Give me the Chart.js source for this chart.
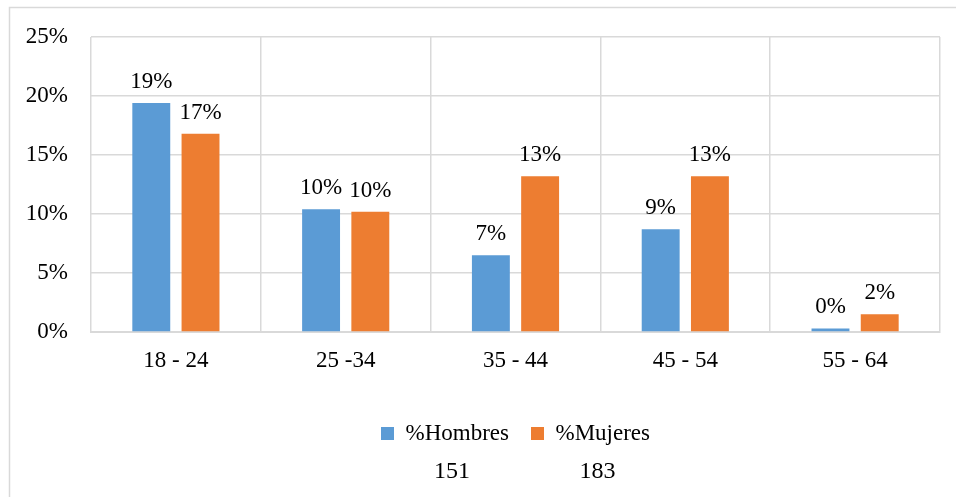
<!DOCTYPE html>
<html>
<head>
<meta charset="utf-8">
<script src="https://cdn.jsdelivr.net/npm/chart.js@4"></script>
<style>
  html, body { margin: 0; padding: 0; background: #ffffff; }
  #wrap { width: 956px; height: 497px; }
</style>
</head>
<body>
<div id="wrap"><canvas id="c" width="956" height="497"></canvas></div>
<script>
// Age groups and share of respondents (%) by sex
const categories = ['18 - 24', '25 -34', '35 - 44', '45 - 54', '55 - 64'];
const seriesNames = ['%Hombres', '%Mujeres'];
const hombres = [19.4, 10.4, 6.5, 8.7, 0.3];
const mujeres = [16.8, 10.2, 13.2, 13.2, 1.5];
const totals = [151, 183];
const yTicks = [0, 5, 10, 15, 20, 25];

const FONT = "'Liberation Serif', 'Times New Roman', serif";
const GRID = '#d9d9d9';

// Light outer frame of the chart object
const framePlugin = {
  id: 'frame',
  beforeDraw(chart) {
    const ctx = chart.ctx;
    ctx.save();
    ctx.strokeStyle = GRID;
    ctx.lineWidth = 1.5;
    ctx.beginPath();
    ctx.moveTo(9.5, chart.height);
    ctx.lineTo(9.5, 7.5);
    ctx.lineTo(chart.width, 7.5);
    ctx.stroke();
    ctx.restore();
  }
};

// Rounded percentage above every bar
const valueLabels = {
  id: 'valueLabels',
  afterDatasetsDraw(chart) {
    const ctx = chart.ctx;
    ctx.save();
    ctx.font = '23px ' + FONT;
    ctx.fillStyle = '#000';
    ctx.textAlign = 'center';
    ctx.textBaseline = 'alphabetic';
    chart.data.datasets.forEach((ds, i) => {
      chart.getDatasetMeta(i).data.forEach((bar, j) => {
        ctx.fillText(Math.round(ds.data[j]) + '%', bar.x, bar.y - 15);
      });
    });
    ctx.restore();
  }
};

// Respondent counts written under each legend entry
const totalsPlugin = {
  id: 'totals',
  afterDraw(chart) {
    const legend = chart.legend;
    if (!legend || !legend.legendHitBoxes) return;
    const ctx = chart.ctx;
    ctx.save();
    ctx.font = '24px ' + FONT;
    ctx.fillStyle = '#000';
    ctx.textAlign = 'center';
    ctx.textBaseline = 'middle';
    legend.legendHitBoxes.forEach((hb, i) => {
      ctx.fillText(String(totals[i]), hb.left + hb.width / 2 + 7, hb.top + hb.height / 2 + 38);
    });
    ctx.restore();
  }
};

new Chart(document.getElementById('c'), {
  type: 'bar',
  data: {
    labels: categories,
    datasets: [
      { label: seriesNames[0], data: hombres, backgroundColor: '#5b9bd5', categoryPercentage: 0.58, barPercentage: 0.77 },
      { label: seriesNames[1], data: mujeres, backgroundColor: '#ed7d31', categoryPercentage: 0.58, barPercentage: 0.77 }
    ]
  },
  options: {
    responsive: false,
    animation: false,
    layout: { padding: { top: 37, right: 16, left: 0, bottom: 42 } },
    scales: {
      x: {
        grid: { color: GRID, lineWidth: 1.5, drawTicks: false, offset: true },
        border: { color: GRID, width: 2 },
        ticks: { color: '#000', font: { family: FONT, size: 23 }, padding: 15 },
        afterFit(s) { s.height = 68; }
      },
      y: {
        min: 0, max: 25,
        afterBuildTicks(s) { s.ticks = yTicks.map(v => ({ value: v })); },
        grid: { color: GRID, lineWidth: 1.5, drawTicks: false },
        border: { display: false },
        ticks: { color: '#000', font: { family: FONT, size: 23 }, padding: 23, callback: v => v + '%' },
        afterFit(s) { s.width = 91; }
      }
    },
    plugins: {
      legend: {
        position: 'bottom',
        fullSize: false,
        labels: {
          color: '#000',
          font: { family: FONT, size: 23 },
          boxWidth: 13, boxHeight: 13,
          padding: 22
        }
      },
      tooltip: { enabled: false }
    }
  },
  plugins: [framePlugin, valueLabels, totalsPlugin]
});
</script>
</body>
</html>
